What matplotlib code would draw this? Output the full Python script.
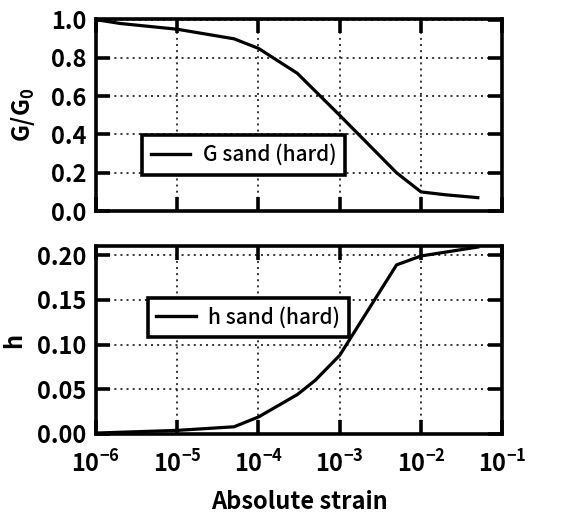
import matplotlib
matplotlib.use("Agg")
import matplotlib.pyplot as plt
from matplotlib.ticker import FixedLocator, FormatStrFormatter, LogLocator, NullLocator

fam = 'Noto Sans CJK JP'
plt.rcParams['font.family'] = [fam, 'DejaVu Sans']
plt.rcParams['font.weight'] = 'bold'
plt.rcParams['mathtext.fontset'] = 'custom'
plt.rcParams['mathtext.rm'] = fam + ':bold'
plt.rcParams['mathtext.it'] = fam + ':bold'
plt.rcParams['mathtext.bf'] = fam + ':bold'
plt.rcParams['mathtext.default'] = 'rm'

strain_G = [1e-6, 2e-6, 1e-5, 5e-5, 1e-4, 3e-4, 1e-3, 5e-3, 1e-2, 2e-2, 5e-2]
G_ratio = [1.0, 0.98, 0.95, 0.90, 0.85, 0.72, 0.50, 0.20, 0.10, 0.085, 0.07]

strain_h = [1e-6, 1e-5, 5e-5, 1e-4, 3e-4, 5e-4, 1e-3, 5e-3, 1e-2, 5e-2]
h_vals = [0.001, 0.004, 0.008, 0.019, 0.044, 0.06, 0.088, 0.189, 0.199, 0.209]

G_label = "G sand (hard)"
h_label = "h sand (hard)"
G_yticks = [0.0, 0.2, 0.4, 0.6, 0.8, 1.0]
h_yticks = [0.00, 0.05, 0.10, 0.15, 0.20]
x_label = "Absolute strain"

fig = plt.figure(figsize=(5.78, 5.16), dpi=100)
ax1 = fig.add_axes([0.166, 0.591, 0.703, 0.372])
ax2 = fig.add_axes([0.166, 0.159, 0.703, 0.364])

fs = 17

def style(ax):
    ax.set_xscale('log')
    ax.set_xlim(1e-6, 1e-1)
    ax.xaxis.set_major_locator(LogLocator(base=10, numticks=10))
    ax.xaxis.set_minor_locator(NullLocator())
    for s in ax.spines.values():
        s.set_linewidth(2.6)
        s.set_color('black')
    ax.tick_params(axis='both', which='major', direction='in', length=10, width=2.6,
                   top=True, right=True, labelsize=fs)
    ax.tick_params(axis='y', pad=7)
    ax.tick_params(axis='x', pad=12)
    ax.grid(True, which='major', linestyle=(0, (1.3, 2.7)), color='black', linewidth=1.1)
    ax.set_axisbelow(True)

def legend(ax, anchor):
    leg = ax.legend(loc='lower left', bbox_to_anchor=anchor,
                    prop={'family': fam, 'weight': 'medium', 'size': 15},
                    frameon=True, fancybox=False, framealpha=1, edgecolor='black',
                    handlelength=1.9, borderpad=0.42, handletextpad=0.6, borderaxespad=0)
    leg.get_frame().set_linewidth(2.6)
    for l in leg.get_lines():
        l.set_linewidth(2.4)
    return leg

style(ax1)
ax1.plot(strain_G, G_ratio, color='black', linewidth=2.3, label=G_label)
ax1.set_ylim(0, 1.003)
ax1.yaxis.set_major_locator(FixedLocator(G_yticks))
ax1.yaxis.set_major_formatter(FormatStrFormatter('%.1f'))
ax1.tick_params(axis='x', labelbottom=False)
ax1.set_ylabel(r'G/G$_0$', fontsize=fs, fontweight='bold', labelpad=10)
legend(ax1, (0.113, 0.19))

style(ax2)
ax2.plot(strain_h, h_vals, color='black', linewidth=2.3, label=h_label)
ax2.set_ylim(0, 0.21)
ax2.yaxis.set_major_locator(FixedLocator(h_yticks))
ax2.yaxis.set_major_formatter(FormatStrFormatter('%.2f'))
ax2.set_ylabel('h', fontsize=fs, fontweight='bold', labelpad=8)
ax2.set_xlabel(x_label, fontsize=fs, fontweight='bold', labelpad=9)
legend(ax2, (0.127, 0.516))

fig.savefig('out.png', dpi=100)
